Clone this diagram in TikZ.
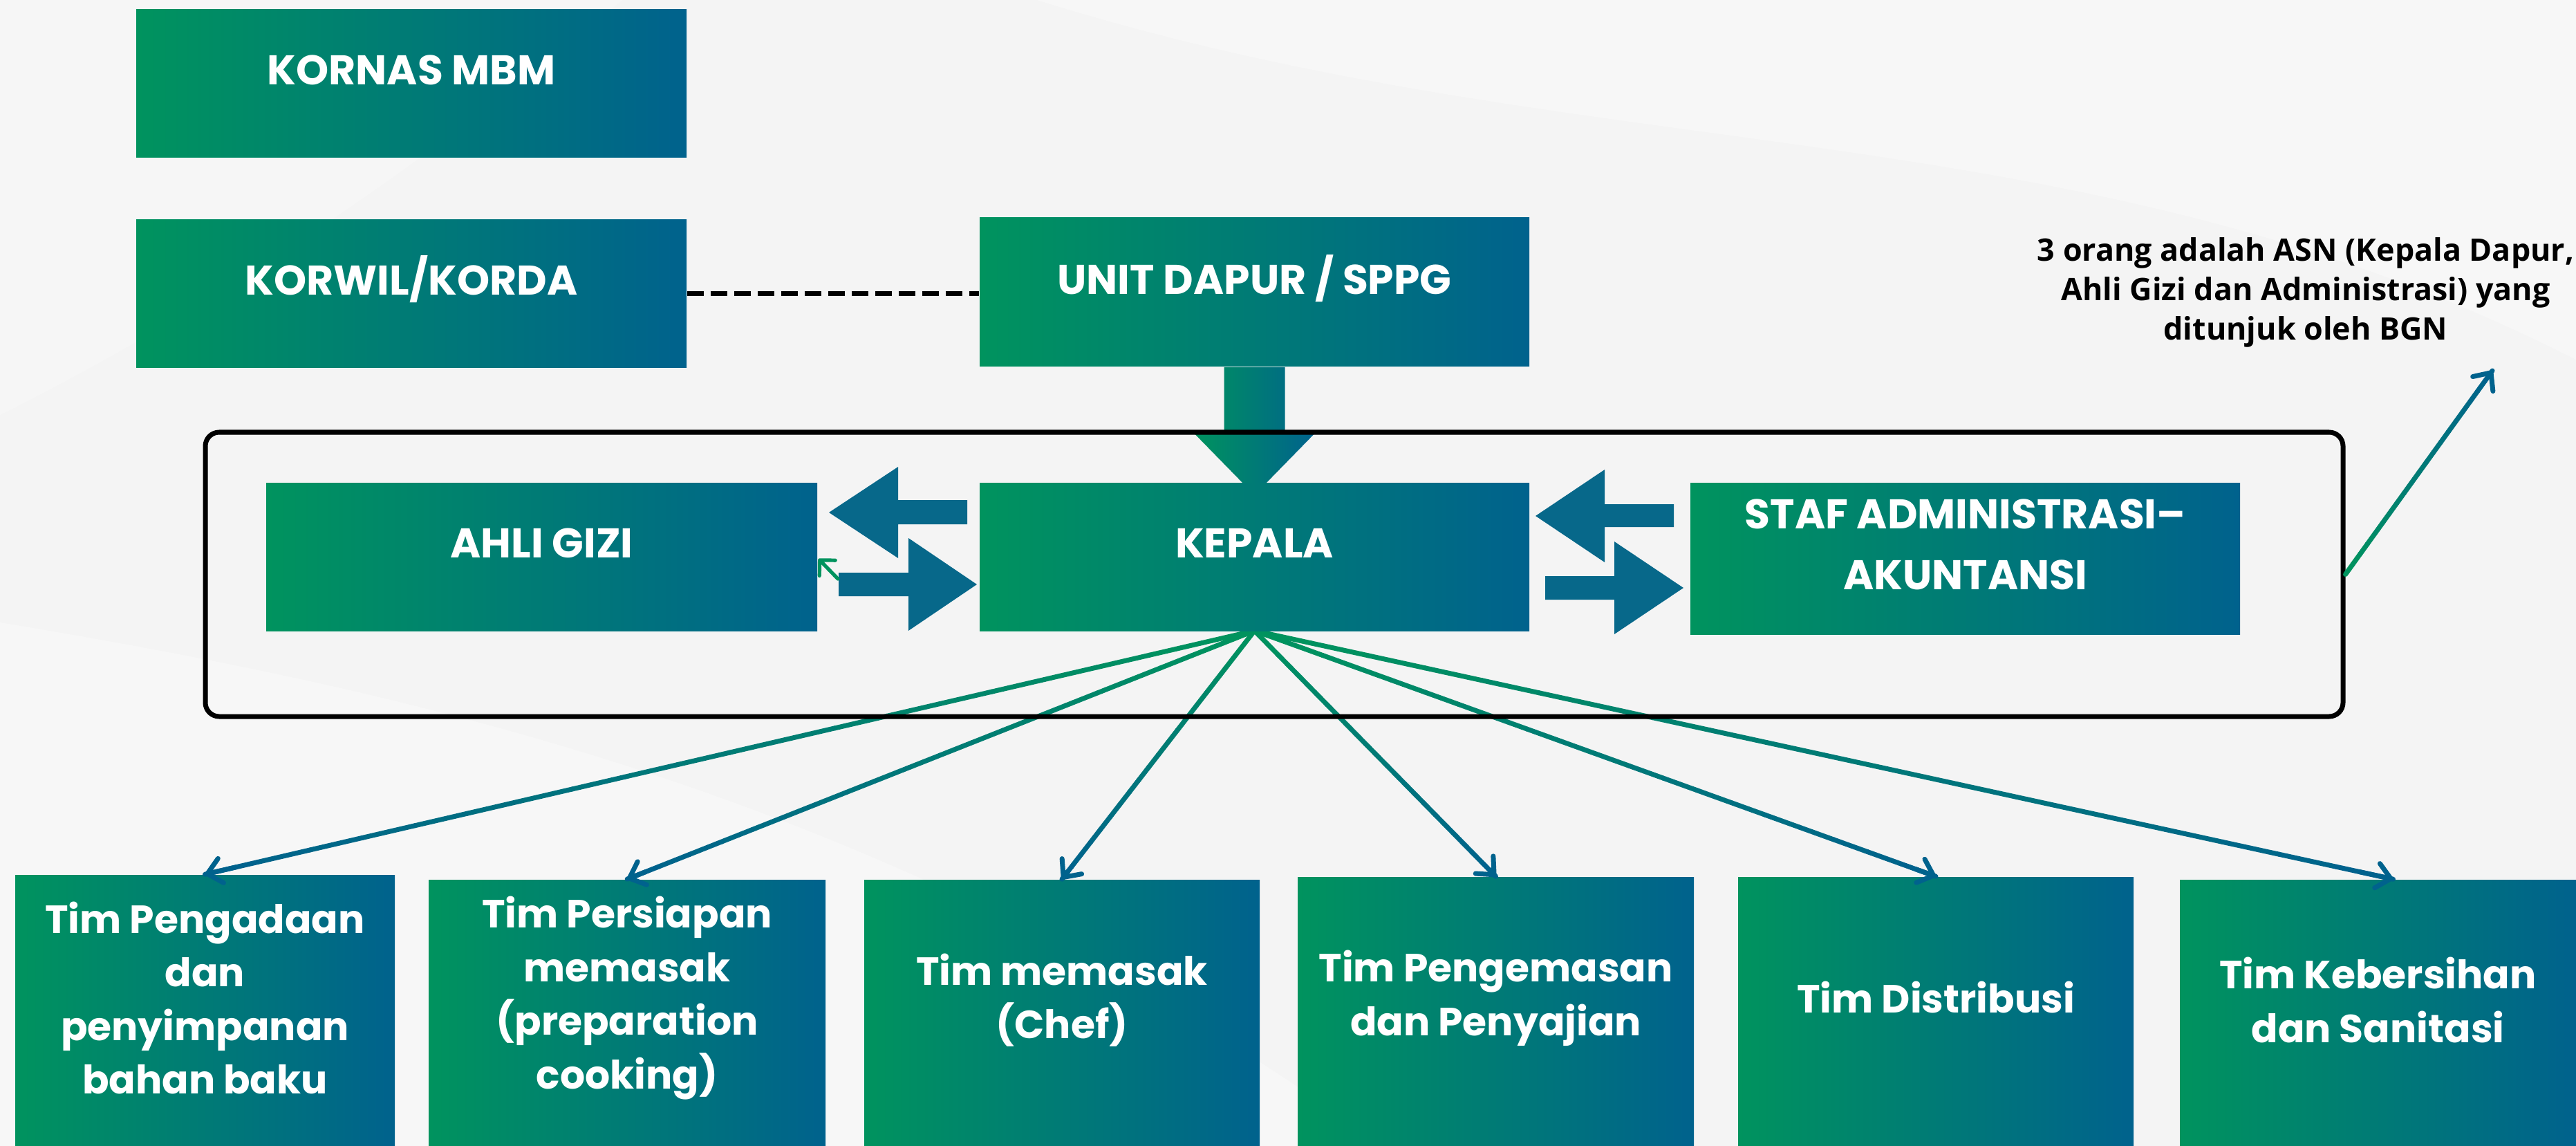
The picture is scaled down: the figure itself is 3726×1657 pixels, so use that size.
\documentclass[tikz,border=0pt]{standalone}
\usepackage{fontspec}
\setmainfont{Poppins}
\newfontfamily\notefont{Open Sans}
\usetikzlibrary{calc,arrows.meta}
\definecolor{grn}{HTML}{00935E}
\definecolor{blu}{HTML}{00628D}
\definecolor{arr}{HTML}{07688A}
\definecolor{bg}{HTML}{F4F4F4}
\tikzset{
  box/.style 2 args={draw=none, left color=grn, right color=blu, inner sep=0pt,
    minimum width=#1*0.25pt, minimum height=#2*0.25pt},
  lbl/.style={text=white, align=center, inner sep=0pt,
    font=\bfseries\fontsize{15}{22}\selectfont},
  blbl/.style={text=white, align=center, inner sep=0pt,
    font=\bfseries\fontsize{14.2}{19.4}\selectfont},
  note/.style={text=black, align=center, inner sep=0pt,
    font=\notefont\bfseries\fontsize{11.2}{14.3}\selectfont},
  fan/.style={line width=1.75pt, line cap=round},
  framebox/.style={draw=black, line width=1.75pt, rounded corners=5pt,
    minimum width=3092*0.25pt, minimum height=411*0.25pt, inner sep=0pt},
  blockarr/.style={fill=arr, draw=none},
  tip/.style={-{Straight Barb[length=5pt,width=9pt,round]}}
}
\newcommand\gradline[2]{%
  \foreach \i in {0,...,19}{%
    \pgfmathtruncatemacro\pp{\i*100/19}%
    \pgfmathsetmacro\qa{\i/20}%
    \pgfmathsetmacro\qb{(\i+1)/20}%
    \draw[fan, blu!\pp!grn] ($#1!\qa!#2$) -- ($#1!\qb!#2$);
  }%
  \draw[fan, blu, tip] ($#1!0.97!#2$) -- #2;
}
\begin{document}
\begin{tikzpicture}[x=0.25pt, y=-0.25pt]
\useasboundingbox (0,0) rectangle (3726,1657);
% background
\fill[bg] (0,0) rectangle (3726,1657);
\fill[white, opacity=0.35] (1500,0) .. controls (2300,250) and (3000,150) .. (3726,520) -- (3726,0) -- cycle;
\fill[white, opacity=0.3] (0,900) .. controls (600,1000) and (1300,1150) .. (2000,1657) -- (0,1657) -- cycle;
\fill[white, opacity=0.25] (0,0) -- (900,0) .. controls (600,250) and (300,450) .. (0,600) -- cycle;

% nodes
\node[box={796}{214}] (kornas) at (595,121) {};
\node[box={796}{214}] (korwil) at (595,425) {};
\node[box={795}{215}] (unit) at (1814.5,422.5) {};

% thick arrow unit -> kepala
\shade[left color=grn, right color=blu]
  ($(unit.south)+(-44,0)$) -- ($(unit.south)+(44,0)$) -- ($(unit.south)+(44,95)$)
  -- ($(unit.south)+(88,95)$) -- ($(unit.south)+(0,185)$) -- ($(unit.south)+(-88,95)$)
  -- ($(unit.south)+(-44,95)$) -- cycle;

% bottom boxes
\coordinate (kep) at (1814.5,912);
\node[box={549}{392}] (b1) at (296.5,1461) {};
\node[box={574}{385}] (b2) at (907,1464.5) {};
\node[box={572}{385}] (b3) at (1536,1464.5) {};
\node[box={573}{389}] (b4) at (2163.5,1462.5) {};
\node[box={572}{389}] (b5) at (2800,1462.5) {};
\node[box={573}{385}] (b6) at (3439.5,1464.5) {};

% fan lines from kepala
\gradline{(kep)}{(b1.north)}
\gradline{(kep)}{(b2.north)}
\gradline{(kep)}{(b3.north)}
\gradline{(kep)}{(b4.north)}
\gradline{(kep)}{(b5.north)}
\gradline{(kep)}{($(b6.north)+(22,0)$)}

% frame
\node[framebox] (frame) at (1843,830.5) {};

\node[box={795}{214}] (kepala) at (1814.5,805) {};
\node[box={797}{214}] (ahli) at (783.5,805) {};
\node[box={795}{219}] (staf) at (2842.5,807.5) {};

% dashed connector
\draw[line width=1.75pt, dash pattern=on 6pt off 2.5pt] (korwil.east) -- (korwil.east -| unit.west);

% block arrows
\fill[blockarr] (1199,741) -- (1299,675) -- (1299,723) -- (1399,723) -- (1399,758) -- (1299,758) -- (1299,807) -- cycle;
\fill[blockarr] (1413,845) -- (1314,778) -- (1314,828) -- (1213,828) -- (1213,862) -- (1314,862) -- (1314,912) -- cycle;
\fill[blockarr] (2221,746) -- (2321,679) -- (2321,729) -- (2421,729) -- (2421,762) -- (2321,762) -- (2321,813) -- cycle;
\fill[blockarr] (2435,850) -- (2335,783) -- (2335,833) -- (2235,833) -- (2235,867) -- (2335,867) -- (2335,917) -- cycle;

% small green arrow
\coordinate (sg) at (1212,837);
\draw[line width=1.3pt, grn, line cap=round, -{Straight Barb[length=4pt,width=8pt,round]}] (sg) -- ($(ahli.east)+(1,3)$);

% note arrow
\coordinate (notetip) at (3605,536);
\gradline{(frame.east)}{(notetip)}
\node[note] (note) at (3335,423) {3 orang adalah ASN (Kepala Dapur,\\Ahli Gizi dan Administrasi) yang\\ditunjuk oleh BGN};

% labels
\node[lbl] at ($(kornas.center)+(0,-20)$) {KORNAS MBM};
\node[lbl] at ($(korwil.center)+(0,-21)$) {KORWIL/KORDA};
\node[lbl] at ($(unit.center)+(0,-20)$) {UNIT DAPUR / SPPG};
\node[lbl] at ($(kepala.center)+(0,-20)$) {KEPALA};
\node[lbl] at ($(ahli.center)+(0,-20)$) {AHLI GIZI};
\node[lbl] at ($(staf.center)+(0,-20)$) {STAF ADMINISTRASI–\\AKUNTANSI};

\node[blbl] at (296.5,1443) {Tim Pengadaan\\dan\\penyimpanan\\bahan baku};
\node[blbl] at (907,1443) {Tim Persiapan\\memasak\\(preparation\\cooking)};
\node[blbl] at (1536,1446) {Tim memasak\\(Chef)};
\node[blbl] at (2163.5,1443) {Tim Pengemasan\\dan Penyajian};
\node[blbl] at (2800,1442) {Tim Distribusi};
\node[blbl] at (3439.5,1446) {Tim Kebersihan\\dan Sanitasi};
\end{tikzpicture}
\end{document}
